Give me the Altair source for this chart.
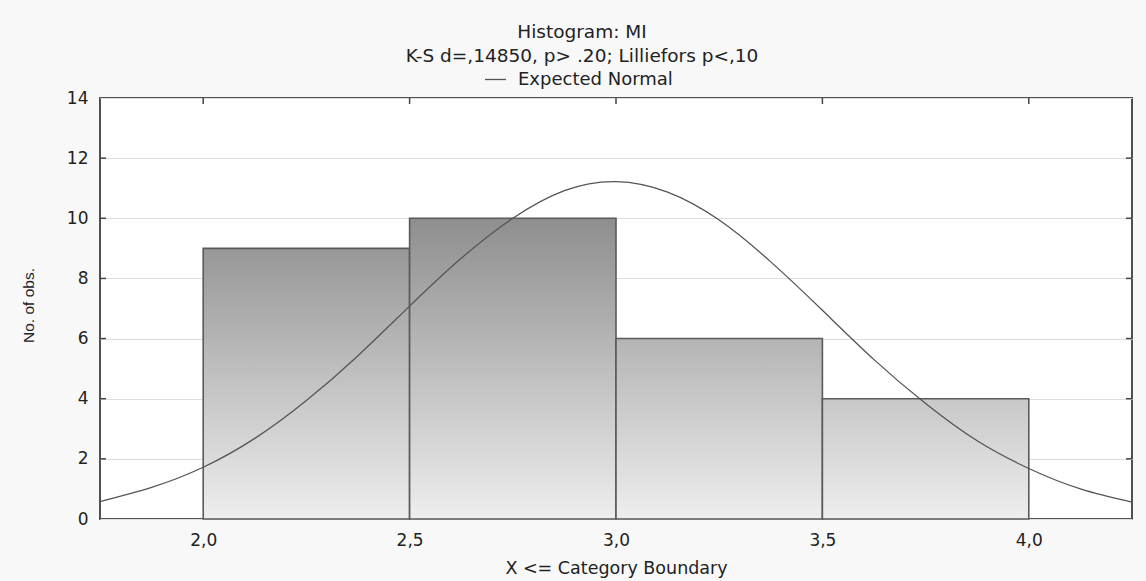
import altair as alt
import pandas as pd

# Histogram bins (upper boundaries are the category limits) and their counts
bin_start = [2.0, 2.5, 3.0, 3.5]
bin_end = [2.5, 3.0, 3.5, 4.0]
counts = [9, 10, 6, 4]

# Expected normal curve, sampled every 0.125 along the x range
curve_x = [1.75, 1.875, 2.0, 2.125, 2.25, 2.375, 2.5, 2.625, 2.75, 2.875, 3.0,
           3.125, 3.25, 3.375, 3.5, 3.625, 3.75, 3.875, 4.0, 4.125, 4.25]
curve_y = [0.58, 1.05, 1.72, 2.68, 3.94, 5.43, 7.08, 8.67, 10.00, 10.92, 11.22,
           10.87, 9.94, 8.55, 6.94, 5.30, 3.84, 2.60, 1.68, 1.00, 0.56]

x_ticks = [2.0, 2.5, 3.0, 3.5, 4.0]
y_ticks = [0, 2, 4, 6, 8, 10, 12, 14]

title_lines = ["Histogram: MI", "K-S d=,14850, p> .20; Lilliefors p<,10"]
series_name = "Expected Normal"
x_title = "X <= Category Boundary"
y_title = "No. of obs."

W, H = 1032, 421
FONT = "DejaVu Sans"
TEXT = "#222222"

bars_df = pd.DataFrame({"idx": range(len(counts)), "start": bin_start,
                        "end": bin_end, "count": counts})
curve_df = pd.DataFrame({"x": curve_x, "y": curve_y, "series": series_name})
xt_df = pd.DataFrame({"x": x_ticks})
yt_df = pd.DataFrame({"y": y_ticks[1:-1]})

x_scale = alt.Scale(domain=[1.75, 4.25], nice=False, zero=False)
y_scale = alt.Scale(domain=[0, 14], nice=False)

x_axis = alt.Axis(values=x_ticks, labelExpr="replace(format(datum.value, '.1f'), '.', ',')",
                  grid=False, domain=False, ticks=False, tickSize=0, labelPadding=13,
                  labelFont=FONT, labelFontSize=17, labelColor=TEXT,
                  title=x_title, titleFont=FONT, titleFontSize=17.5, titleFontWeight="normal",
                  titleColor=TEXT, titleX=W / 2, titleY=49, titleAlign="center",
                  titleBaseline="middle")
y_axis = alt.Axis(values=y_ticks, format="d", grid=True, gridColor="#dedede", gridWidth=1,
                  domain=False, ticks=False, tickSize=0, labelPadding=12,
                  labelFont=FONT, labelFontSize=17, labelColor=TEXT,
                  title=y_title, titleFont="Liberation Sans", titleFontSize=15.5,
                  titleFontWeight="normal", titleColor=TEXT, titleX=-71.5, titleY=207,
                  titleAlign="center", titleBaseline="middle")

X = lambda f: alt.X(f, scale=x_scale, axis=x_axis)
Y = lambda f: alt.Y(f, scale=y_scale, axis=y_axis)


def shade(v, top_value=10):
    # vertical grey ramp tied to the y scale, so taller bars reach darker tones
    return {"gradient": "linear", "x1": 0, "x2": 0, "y1": 1 - top_value / v, "y2": 1,
            "stops": [{"offset": 0, "color": "#8e8e8e"},
                      {"offset": 1, "color": "#eeeeee"}]}


bar_layers = []
for i, c in enumerate(counts):
    bar_layers.append(
        alt.Chart(bars_df)
        .transform_filter(alt.datum.idx == i)
        .mark_bar(color=shade(c), stroke="#5a5a5a", strokeWidth=1.6)
        .encode(x=X("start:Q"), x2="end:Q", y=Y("count:Q"), y2=alt.datum(0))
    )

curve = (
    alt.Chart(curve_df)
    .mark_line(interpolate="natural", strokeWidth=1.3)
    .encode(x=X("x:Q"), y=Y("y:Q"),
            color=alt.Color("series:N", scale=alt.Scale(range=["#555555"]),
                            legend=alt.Legend(title=None, orient="none", legendX=384,
                                              legendY=-30, symbolType="stroke",
                                              symbolSize=441, symbolStrokeWidth=1.3,
                                              labelFont=FONT, labelFontSize=18,
                                              labelColor=TEXT, labelOffset=11,
                                              padding=0)))
)

# inward tick marks on the frame
tick_style = dict(color="#444444", strokeWidth=1.5)
top_ticks = alt.Chart(xt_df).mark_rule(**tick_style).encode(
    x=X("x:Q"), y=alt.value(0), y2=alt.value(6))
left_ticks = alt.Chart(yt_df).mark_rule(**tick_style).encode(
    y=Y("y:Q"), x=alt.value(0), x2=alt.value(6))
right_ticks = alt.Chart(yt_df).mark_rule(**tick_style).encode(
    y=Y("y:Q"), x=alt.value(W), x2=alt.value(W - 6))

chart = (
    alt.layer(*bar_layers, curve, top_ticks, left_ticks, right_ticks)
    .properties(
        width=W, height=H,
        title=alt.TitleParams(text=title_lines, anchor="middle", frame="group",
                              offset=3, dx=-34, font=FONT, fontSize=18.5,
                              fontWeight="normal", color=TEXT, lineHeight=24),
        autosize=alt.AutoSizeParams(type="none"),
        padding={"left": 100, "top": 98, "right": 14, "bottom": 62},
        background="#f8f8f8",
    )
    .configure_view(stroke="#505050", strokeWidth=2, fill="white")
)

chart.save("out.html", embed_options={"renderer": "svg", "actions": False})
